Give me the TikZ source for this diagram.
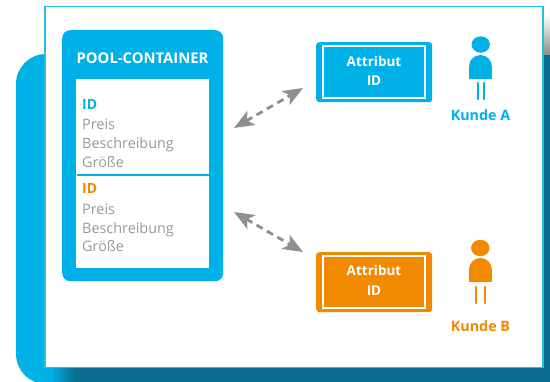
\documentclass[tikz,border=0pt]{standalone}
\usepackage{fontspec}
\setmainfont{Open Sans}
\usetikzlibrary{arrows.meta}
\definecolor{cblue}{HTML}{00B1E7}
\definecolor{cline}{HTML}{2ABBE8}
\definecolor{corange}{HTML}{F18A00}
\definecolor{cteal}{HTML}{0B6D90}
\definecolor{cgrey}{HTML}{8F8F8F}
\definecolor{ctext}{HTML}{999999}
\tikzset{
  x=1pt,y=-1pt,
  lbl/.style={inner sep=0pt,anchor=base west,font=\fontsize{14.4}{14.4}\selectfont,text=ctext},
  idblue/.style={lbl,font=\fontsize{14}{14}\selectfont\bfseries,text=cblue},
  idorange/.style={lbl,font=\fontsize{14}{14}\selectfont\bfseries,text=corange},
  boxtext/.style={inner sep=0pt,anchor=base,text=white,font=\fontsize{13.5}{13.5}\selectfont\bfseries},
  attrbox/.style={rounded corners=3pt},
  attrinner/.style={draw=white,line width=1.6pt},
  kunde/.style={inner sep=0pt,anchor=base,font=\fontsize{14.3}{14.3}\selectfont\bfseries},
  twoway/.style={draw=cgrey,line width=2.8pt,dash pattern=on 7pt off 5pt,
    {Stealth[length=20pt,width=16pt,inset=5pt]}-{Stealth[length=20pt,width=16pt,inset=5pt]}},
}
\begin{document}
\begin{tikzpicture}
\useasboundingbox (0,0) rectangle (550,382);
\fill[white] (0,0) rectangle (550,382);
% blue backing
\fill[cblue,rounded corners=30pt] (16,54) rectangle (110,384);
% shadows
\shade[left color=cblue,right color=cteal] (50,367) rectangle (75,382);
\fill[cteal] (75,367) rectangle (550,382);
\fill[cteal] (543,55) rectangle (550,382);
\shade[top color=white,bottom color=black!45] (543,14) rectangle (550,55);
% panel
\node[draw=cline,fill=white,line width=1.2pt,minimum width=498pt,minimum height=361.5pt,inner sep=0pt,outer sep=0pt,anchor=north west] (panel) at (45,6.3) {};
% container
\node[fill=cblue,rounded corners=8pt,minimum width=161pt,minimum height=251pt,inner sep=0pt,anchor=north west] (pool) at (62,30) {};
\node[inner sep=0pt,anchor=base,text=white,font=\fontsize{14.8}{14.8}\selectfont\bfseries] (title) at (142.5,64) {POOL-CONTAINER};
\node[fill=white,minimum width=133pt,minimum height=189pt,inner sep=0pt,anchor=north west] (list) at (76,79) {};
\coordinate (divl) at (77,175.5);
\coordinate (divr) at (209,175.5);
\draw[cblue,line width=2pt] (divl) -- (divr);
\node[idblue] (id1) at (82,110) {ID};
\node[lbl] (p1) at (82,129.3) {Preis};
\node[lbl] (b1) at (82,149) {Beschreibung};
\node[lbl] (g1) at (82,168) {Größe};
\node[idorange] (id2) at (82,194) {ID};
\node[lbl] (p2) at (82,214.3) {Preis};
\node[lbl] (b2) at (82,233.3) {Beschreibung};
\node[lbl] (g2) at (82,252) {Größe};
% attribute boxes
\node[fill=cblue,attrbox,minimum width=116pt,minimum height=60pt,inner sep=0pt,anchor=north west] (boxa) at (316,42) {};
\node[attrinner,minimum width=102pt,minimum height=52pt,inner sep=0pt] (innera) at (boxa.center) {};
\node[boxtext] (ta1) at (374,66.5) {Attribut};
\node[boxtext] (ta2) at (374,86) {ID};
\node[fill=corange,attrbox,minimum width=116pt,minimum height=60pt,inner sep=0pt,anchor=north west] (boxb) at (316,252) {};
\node[attrinner,minimum width=102pt,minimum height=52pt,inner sep=0pt] (innerb) at (boxb.center) {};
\node[boxtext] (tb1) at (374,276) {Attribut};
\node[boxtext] (tb2) at (374,296) {ID};
% arrows
\coordinate (a1) at (234,128);
\coordinate (a2) at (303,88);
\coordinate (b1e) at (234,212);
\coordinate (b2e) at (303,252);
\draw[twoway] (a1) -- (a2);
\draw[twoway] (b1e) -- (b2e);
% persons
\fill[cblue] (480.7,44.5) ellipse [x radius=9.2,y radius=8.2];
\fill[cblue] (469,79) -- (469,66.5) arc[start angle=180,end angle=360,x radius=11.4,y radius=11.5] -- (491.8,79) -- cycle;
\draw[cblue,line width=2.2pt,line cap=round] (477.7,83) -- (477.7,99);
\draw[cblue,line width=2.2pt,line cap=round] (484.3,83) -- (484.3,99);
\node[kunde,text=cblue] (ka) at (480.5,121) {Kunde A};
\fill[corange] (480.3,248) ellipse [x radius=9.2,y radius=8.2];
\fill[corange] (469,282) -- (469,269.5) arc[start angle=180,end angle=360,x radius=11.4,y radius=11.5] -- (491.8,282) -- cycle;
\draw[corange,line width=2.2pt,line cap=round] (476,287) -- (476,303);
\draw[corange,line width=2.2pt,line cap=round] (485,287) -- (485,303);
\node[kunde,text=corange] (kb) at (480.5,331.5) {Kunde B};
\end{tikzpicture}
\end{document}
